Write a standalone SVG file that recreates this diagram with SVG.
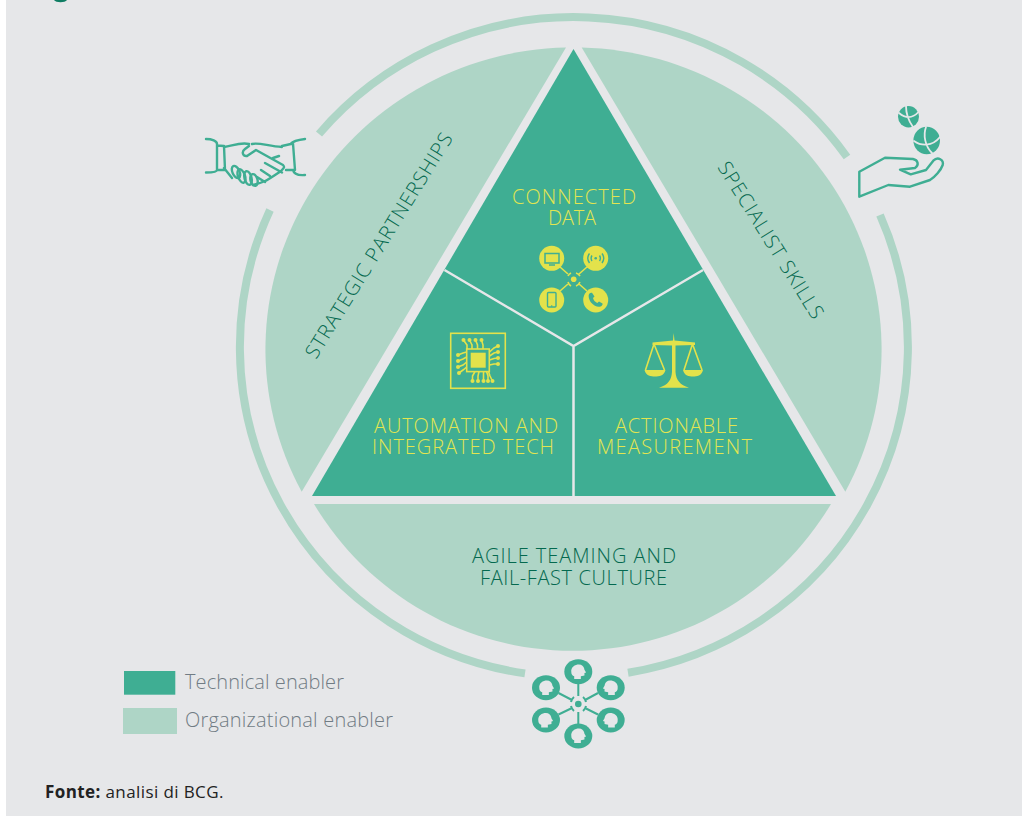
<svg xmlns="http://www.w3.org/2000/svg" width="1022" height="816" viewBox="0 0 1022 816">
<style>
.t{font-family:"Open Sans","Noto Sans","Liberation Sans",sans-serif;font-weight:300;font-size:20px}
.y{fill:#e3e550}.d{fill:#04694f}
.g{fill:#717c84}
.lt{fill:#aed5c6}
.ln{fill:none;stroke:#3fae93;stroke-width:2.400;stroke-linecap:round;stroke-linejoin:round}
.yl{fill:none;stroke:#e3e24b;stroke-width:1.600}
.ring{fill:none;stroke:#aed5c6;stroke-width:8}
.gl{fill:none;stroke:#3fae93;stroke-width:1.400}
.pl{fill:none;stroke:#3fae93;stroke-width:2}
.cut{fill:none;stroke:#e6e7e9;stroke-width:1.800;stroke-linecap:round}
</style>
<defs>
<path id="head" d="M-7 1C-8-5-3-8 1-8C4-8 6-6 6.500-3.500L6.800-2L8.500 1L6.800 1.800L6.800 4.500L3 5.500L3 8.500L-4 8.500L-4 5.500C-6 4.500-7 3-7 1Z" fill="#e6e7e9"/>
</defs>
<rect id="bg" x="6" y="0" width="1016" height="816" fill="#e6e7e9"/>
<path d="M54 0C56 3 65 3 67 0Z" fill="#0f7d63"/>

<g id="connectors">
<path class="ring" d="M319 134A334 330 0 0 1 847 157"/>
<path class="ring" d="M880 215A334 330 0 0 1 628 672.700"/>
<path class="ring" d="M525 673.400A334 330 0 0 1 270 210"/>
</g>

<g id="strategic-partnerships">
<path class="lt" d="M566 47.500A307.500 302 0 0 0 301.700 491.700Z"/>
<text class="t d" transform="translate(316 360) rotate(-58.200)" textLength="261" lengthAdjust="spacing">STRATEGIC PARTNERSHIPS</text>
</g>
<g id="specialist-skills">
<path class="lt" d="M581.700 47.500A307.500 302 0 0 1 845.300 491.700Z"/>
<text class="t d" transform="translate(717 167) rotate(58)" textLength="181" lengthAdjust="spacing">SPECIALIST SKILLS</text>
</g>
<g id="agile-teaming">
<path class="lt" d="M314 504L831 504A301.300 302 0 0 1 314 504Z"/>
<text class="t d"><tspan x="472" y="563" textLength="204" lengthAdjust="spacing">AGILE TEAMING AND</tspan><tspan x="480" y="585" textLength="187" lengthAdjust="spacing">FAIL-FAST CULTURE</tspan></text>
</g>

<g id="triangle">
<path d="M573.500 49L836 496L312 496Z" fill="#3fae93"/>
<path d="M444.500 270L573.500 346L703 270M573.500 346L573.500 496" fill="none" stroke="#e6e7e9" stroke-width="2.500"/>
</g>

<g id="connected-data">
<text class="t y"><tspan x="512" y="204" textLength="124" lengthAdjust="spacing">CONNECTED</tspan><tspan x="548" y="225" textLength="48" lengthAdjust="spacing">DATA</tspan></text>
<g fill="#e3e24b">
<circle cx="551.700" cy="258.300" r="12.500"/>
<circle cx="595.700" cy="258.300" r="12.500"/>
<circle cx="551.700" cy="300" r="12.500"/>
<circle cx="595.700" cy="300" r="12.500"/>
<circle cx="573.700" cy="279.300" r="2.800"/>
</g>
<path class="yl" d="M560 267L568 274M587 267L579 274M560 291L568 284M587 291L579 284"/>
<path class="yl" d="M568 276A7 7 0 0 1 571 273M576 273A7 7 0 0 1 580 276M580 282A7 7 0 0 1 576 286M571 286A7 7 0 0 1 568 282"/>
<path d="M545 253.500H559V263H545Z" fill="none" stroke="#3fae93" stroke-width="1.500"/>
<path d="M549 265H555" stroke="#3fae93" stroke-width="1.500"/>
<path class="gl" d="M589.500 253.500A8 8 0 0 0 589.500 263M592 255.500A5 5 0 0 0 592 261M602 253.500A8 8 0 0 1 602 263M599.500 255.500A5 5 0 0 1 599.500 261"/>
<circle cx="595.700" cy="258.300" r="1.300" fill="#3fae93"/>
<rect x="547.500" y="292.500" width="8.500" height="14.500" rx="1" fill="none" stroke="#3fae93" stroke-width="1.400"/>
<circle cx="551.700" cy="306" r="0.800" fill="#3fae93"/>
<path d="M589.500 293.500C588 295 588.500 299 591 302.500C594 306 598 307.500 600.500 306.500C602 305.800 603 304.500 602.500 303.500L599 301.500L597.300 303C595 302 593.500 300 593 298L594.500 296.500L592 292.800C591 292.500 590 293 589.500 293.500Z" fill="#3fae93"/>
</g>

<g id="automation">
<text class="t y"><tspan x="374" y="433" textLength="184" lengthAdjust="spacing">AUTOMATION AND</tspan><tspan x="372" y="454" textLength="182" lengthAdjust="spacing">INTEGRATED TECH</tspan></text>
<rect class="yl" x="450.700" y="333.300" width="54.600" height="55"/>
<rect class="yl" x="466.700" y="349" width="22.600" height="22.600"/>
<rect x="470.700" y="352.700" width="15" height="15" fill="#e3e24b"/>
<path class="yl" d="M463.500 340L467 345L467 349M469.500 340L472 345L472 349M475.500 340L477.500 345L477.500 349M481.500 340L483 345L483 349M472.500 381L472.500 376L475 371.500M478 381L478 376L479 371.500M483.500 381L483.500 376L483.500 371.500M488 381L488 376L486.500 371.500M492.500 381L490 376L488.500 371.500M498 346L494 348L489.500 352M498 352L494 353L489.500 356M498 358L494 358.500L489.500 360M498 364L494 364L489.500 365M458 355L463 353L466.700 352M458 361L463 359L466.700 357M458 367L463 365L466.700 362M459 373L463 370L466.700 367"/>
<g fill="#e3e24b">
<circle cx="463.500" cy="340" r="2"/><circle cx="469.500" cy="340" r="2"/><circle cx="475.500" cy="340" r="2"/><circle cx="481.500" cy="340" r="2"/>
<circle cx="472.500" cy="381" r="2"/><circle cx="478" cy="381" r="2"/><circle cx="483.500" cy="381" r="2"/><circle cx="488" cy="381" r="2"/><circle cx="492.500" cy="381" r="2"/>
<circle cx="498" cy="346" r="2"/><circle cx="498" cy="352" r="2"/><circle cx="498" cy="358" r="2"/><circle cx="498" cy="364" r="2"/>
<circle cx="458" cy="355" r="2"/><circle cx="458" cy="361" r="2"/><circle cx="458" cy="367" r="2"/><circle cx="459" cy="373" r="2"/>
</g>
</g>

<g id="actionable-measurement">
<text class="t y"><tspan x="615" y="433" textLength="123" lengthAdjust="spacing">ACTIONABLE</tspan><tspan x="597" y="454" textLength="155" lengthAdjust="spacing">MEASUREMENT</tspan></text>
<path d="M673.700 333L674.500 340.500L695 342.500L695 345L675.500 345.500L675.500 372C676 380 680 385 689 387.700L659 387.700C668 385 671.500 380 672 372L672 345.500L652.500 345L652.500 342.500L673 340.500Z" fill="#e3e24b"/>
<path d="M644.500 370H665.500C664 376 659 376.500 655 376.500C651 376.500 646 376 644.500 370ZM683 370H703C701.500 376 697 376.500 693 376.500C689 376.500 684.500 376 683 370Z" fill="#e3e24b"/>
<path class="yl" d="M654 344L645.500 370M654 344L664.500 370M692.500 344L684 370M692.500 344L702 370"/>
</g>

<g id="handshake-icon">
<path class="ln" d="M206 139C212 139 217 141 217 144L217 170C217 172 212 172.500 206 172.500M217 145.500L224 146L225 170L217 170M224 147C232 146 240 142 249 144M249 146L245 149C241 152 243 156.500 247 156L256 150L283 165C285 167 284 168 281 171C275 175 268 180 264 181.500C258 184 256 184 253 185M252 144C258 142 268 146 282 147M282 146L293 143.500L295 170L286 170M291 143.500C293 141 298 140 305 139M293 170C294 175 299 175.500 305 175M224 168L232 178M273 158L279 156M265 163L282 172.500M261 170L270 176M257 177L265 182"/>
<g class="ln">
<ellipse cx="236" cy="172" rx="3.500" ry="6.500" transform="rotate(-25 236 172)"/>
<ellipse cx="241.500" cy="176" rx="3.500" ry="7" transform="rotate(-20 241.500 176)"/>
<ellipse cx="248" cy="178" rx="3.500" ry="7" transform="rotate(-15 248 178)"/>
<ellipse cx="254" cy="180" rx="3.500" ry="6" transform="rotate(-15 254 180)"/>
</g>
</g>

<g id="hand-globes-icon">
<path class="ln" d="M859.300 171.700L885 157.700L913 159C918 160 919.500 165 915 168L900 169.700L910.700 174.300L926 170L933.300 160.700C938 156 944 160 942.700 165C941 170 935 177 930 180L910 186.700L888.300 185L859.300 196.700Z"/>
<ellipse cx="908.500" cy="116.700" rx="10.500" ry="10.700" fill="#3fae93"/>
<ellipse cx="926.700" cy="140.500" rx="13.300" ry="13.800" fill="#3fae93"/>
<path class="cut" d="M899 113C905 118 912 119 918.500 112M906 106C906 112 908 120 913 127"/>
<path class="cut" d="M914 141C921 146 932 147 940 137M926 127C923 135 925 146 932 153"/>
</g>

<g id="people-icon">
<g fill="#3fae93">
<ellipse cx="578.300" cy="671.700" rx="14" ry="12.500"/>
<ellipse cx="546" cy="687.700" rx="14" ry="12.500"/>
<ellipse cx="610.700" cy="687.700" rx="14" ry="12.500"/>
<ellipse cx="546" cy="720" rx="14" ry="12.500"/>
<ellipse cx="610.700" cy="720" rx="14" ry="12.500"/>
<ellipse cx="578.300" cy="736" rx="14" ry="12.500"/>
<circle cx="578.300" cy="704" r="3.300"/>
</g>
<use href="#head" transform="translate(578 671.500) scale(.95 .88)"/>
<use href="#head" transform="translate(546 687.500) scale(.95 .88)"/>
<use href="#head" transform="translate(611 687.500) scale(-.95 .88)"/>
<use href="#head" transform="translate(545 720) scale(.95 .88)"/>
<use href="#head" transform="translate(611 720) scale(-.95 .88)"/>
<use href="#head" transform="translate(578 735.500) scale(.95 .88)"/>
<path class="pl" d="M578.300 684L578.300 696M578.300 712L578.300 724M558.500 693L571 699.500M598 693L586 699.500M558.500 714.500L571 708.500M598 714.500L586 708.500"/>
<path class="pl" d="M571 702A8 8 0 0 1 574 697M583 697A8 8 0 0 1 586 702M586 706A8 8 0 0 1 583 711M574 711A8 8 0 0 1 571 706"/>
</g>

<g id="legend">
<rect x="124" y="671" width="51.300" height="23.700" fill="#3fae93"/>
<rect x="123" y="708" width="54" height="26" fill="#aed5c6"/>
<text class="t g" x="185" y="689" textLength="159" lengthAdjust="spacing">Technical enabler</text>
<text class="t g" x="185" y="727" textLength="208" lengthAdjust="spacing">Organizational enabler</text>
</g>
<text x="45" y="798" font-family="'Open Sans','Noto Sans',sans-serif" font-size="17" letter-spacing=".4" fill="#222"><tspan font-weight="700">Fonte:</tspan> analisi di BCG.</text>
</svg>
